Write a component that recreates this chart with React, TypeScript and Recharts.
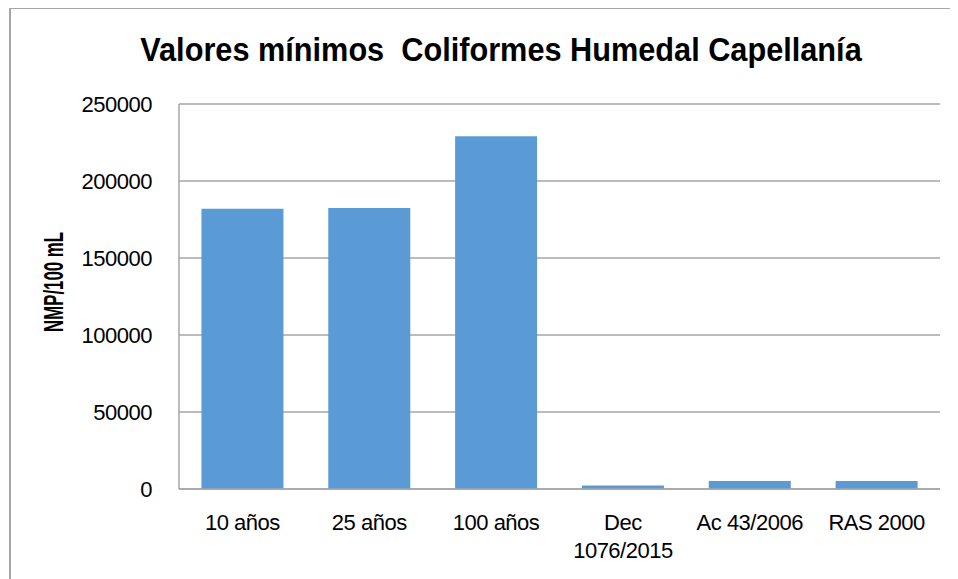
import React from "react";
import { Bar, BarChart, CartesianGrid, XAxis, YAxis } from "recharts";

const categories = ["10 años", "25 años", "100 años", "Dec\n1076/2015", "Ac 43/2006", "RAS 2000"];
const values = [182000, 182500, 229000, 2300, 5200, 5200];
const yTicks = [0, 50000, 100000, 150000, 200000, 250000];

const data = categories.map((name, i) => ({ name, value: values[i] }));

const GRAY = "#a6a6a6";
const FONT = "'Liberation Sans', Arial, sans-serif";

// multi-line category tick, split on \n
const CategoryTick = (props: any) => {
    const { x, y, payload } = props;
    const lines = String(payload.value).split("\n");
    return (
        <text
            x={x}
            y={y}
            textAnchor="middle"
            fill="#000"
            fontSize={22}
            fontFamily={FONT}
            letterSpacing={-0.5}
        >
            {lines.map((line, i) => (
                <tspan key={i} x={x} dy={i === 0 ? 39 : 28}>
                    {line}
                </tspan>
            ))}
        </text>
    );
};

export default function App() {
    return (
        <div
            style={{
                position: "relative",
                marginLeft: 1,
                marginTop: -1,
                width: 946,
                height: 570,
                borderTop: `2px solid ${GRAY}`,
                borderLeft: `2px solid ${GRAY}`,
                overflow: "hidden",
                background: "#fff",
            }}
        >
            <div
                style={{
                    position: "absolute",
                    left: 490,
                    top: 24,
                    transform: "translateX(-50%) scaleX(0.93)",
                    whiteSpace: "pre",
                    fontFamily: FONT,
                    fontWeight: "bold",
                    fontSize: 33,
                    lineHeight: "33px",
                    color: "#000",
                }}
            >
                {"Valores mínimos  Coliformes Humedal Capellanía"}
            </div>
            <div
                style={{
                    position: "absolute",
                    left: 43,
                    top: 273,
                    transform: "translate(-50%, -50%) rotate(-90deg) scaleX(0.6)",
                    whiteSpace: "pre",
                    fontFamily: FONT,
                    fontWeight: "bold",
                    fontSize: 28,
                    lineHeight: "28px",
                    color: "#000",
                }}
            >
                NMP/100 mL
            </div>
            <div style={{ position: "absolute", left: 0, top: 0 }}>
                <BarChart
                    width={937}
                    height={561}
                    data={data}
                    margin={{ top: 95, right: 8, left: 0, bottom: 21 }}
                    barCategoryGap="17.7%"
                >
                    <CartesianGrid vertical={false} stroke={GRAY} strokeWidth={1.5} />
                    <XAxis
                        dataKey="name"
                        height={60}
                        axisLine={{ stroke: GRAY, strokeWidth: 1.5 }}
                        tickLine={false}
                        tickSize={0}
                        interval={0}
                        tick={<CategoryTick />}
                    />
                    <YAxis
                        width={168}
                        domain={[0, 250000]}
                        ticks={yTicks}
                        axisLine={{ stroke: GRAY, strokeWidth: 1.5 }}
                        tickLine={false}
                        tickSize={0}
                        tickMargin={27}
                        tick={{ fill: "#000", fontSize: 22, fontFamily: FONT, letterSpacing: -0.5 }}
                    />
                    <Bar dataKey="value" fill="#5b9bd5" isAnimationActive={false} />
                </BarChart>
            </div>
        </div>
    );
}
